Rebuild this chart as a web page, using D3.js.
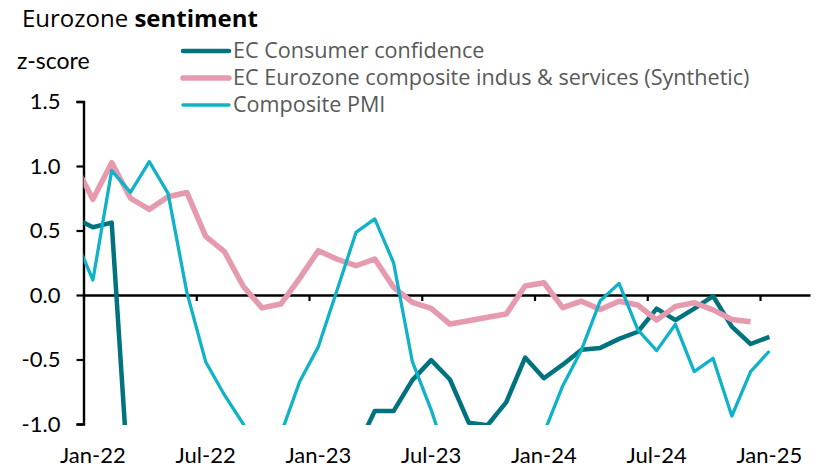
<!DOCTYPE html>
<html>
<head>
<meta charset="utf-8">
<script src="https://cdn.jsdelivr.net/npm/d3@7/dist/d3.min.js"></script>
<style>
  html, body { margin: 0; padding: 0; background: #fff; }
  svg { display: block; font-family: Lato, "Open Sans", sans-serif; }
</style>
</head>
<body>
<svg id="chart" width="826" height="469"></svg>
<script>
// Month categories: index 0 = Jan-22 (index -1 = Dec-21, partly cut by the axis)
const monthIndex = d3.range(-1, 37);
const tickLabels = ["Jan-22", "Jul-22", "Jan-23", "Jul-23", "Jan-24", "Jul-24", "Jan-25"];
const tickLabelMonths = [0, 6, 12, 18, 24, 30, 36];
const yTicks = [-1.0, -0.5, 0.0, 0.5, 1.0, 1.5];

const seriesNames = [
  "EC Consumer confidence",
  "EC Eurozone composite indus & services (Synthetic)",
  "Composite PMI"
];

// EC Consumer confidence (Dec-21 .. Jan-25)
const consumerConfidence = [
  0.60, 0.525, 0.561, -1.68, -2.10, -2.30, -2.50, -2.70, -2.90, -3.00,
  -2.90, -2.60, -2.30, -1.90, -1.60, -1.20, -0.90, -0.90, -0.66, -0.505,
  -0.655, -0.99, -1.01, -0.83, -0.485, -0.645, -0.54, -0.425, -0.41, -0.34,
  -0.285, -0.105, -0.195, -0.105, -0.008, -0.245, -0.38, -0.325
];

// EC Eurozone composite indus & services (Synthetic) (Dec-21 .. Dec-24)
const ecComposite = [
  1.02, 0.742, 1.026, 0.75, 0.664, 0.762, 0.795, 0.455, 0.336, 0.068,
  -0.10, -0.07, 0.129, 0.344, 0.277, 0.227, 0.279, 0.06, -0.057, -0.103,
  -0.225, -0.199, -0.173, -0.147, 0.07, 0.095, -0.098, -0.048, -0.113, -0.048,
  -0.078, -0.194, -0.088, -0.06, -0.115, -0.19, -0.207, null
];

// Composite PMI (Dec-21 .. Jan-25)
const compositePMI = [
  0.46, 0.116, 0.964, 0.796, 1.034, 0.788, 0.02, -0.517, -0.775, -1.0,
  -1.30, -1.08, -0.672, -0.40, 0.04, 0.485, 0.59, 0.25, -0.517, -0.89,
  -1.33, -1.60, -1.70, -1.60, -1.40, -1.07, -0.705, -0.426, -0.044, 0.09,
  -0.271, -0.431, -0.227, -0.594, -0.491, -0.938, -0.594, -0.434
];

const colors = ["#00737F", "#E59BAD", "#10B2C8"];
const widths = [4.5, 5.5, 3.3];

const svg = d3.select("#chart");

const x = d3.scaleLinear().domain([-0.5, 38.16]).range([83.5, 810]);
const y = d3.scaleLinear().domain([-1, 1.5]).range([424, 101.5]);

// Title
const title = svg.append("text").attr("x", 22).attr("y", 27)
  .attr("font-size", 24).attr("fill", "#000").attr("font-family", "'Open Sans', sans-serif");
title.append("tspan").text("Eurozone ");
title.append("tspan").attr("font-weight", "bold").text("sentiment");

// y-axis title
svg.append("text").attr("x", 17).attr("y", 69)
  .attr("font-size", 23).attr("fill", "#000").text("z-score");

// clip
svg.append("defs").append("clipPath").attr("id", "plotclip")
  .append("rect").attr("x", 83.5).attr("y", 90).attr("width", 810 - 83.5).attr("height", 425 - 90);

// x axis (zero line)
const xAxis = svg.append("g").attr("transform", `translate(0,${y(0)})`)
  .call(d3.axisBottom(x).tickValues(tickLabelMonths.map(m => m - 0.5)).tickSize(6).tickSizeOuter(0).tickFormat(""));
xAxis.select(".domain").attr("stroke", "#000").attr("stroke-width", 2.6);
xAxis.selectAll(".tick line").attr("stroke", "#000").attr("stroke-width", 2.2);

// x labels
svg.append("g").selectAll("text").data(tickLabels).join("text")
  .attr("x", (d, i) => x(tickLabelMonths[i]))
  .attr("y", 463)
  .attr("text-anchor", "middle")
  .attr("font-size", 22)
  .attr("fill", "#000")
  .text(d => d);

// y axis
const yAxis = svg.append("g").attr("transform", `translate(${x(-0.5)},0)`)
  .call(d3.axisLeft(y).tickValues(yTicks).tickSize(7).tickSizeOuter(7).tickPadding(16)
    .tickFormat(d => d.toFixed(1)));
yAxis.select(".domain").attr("stroke", "#000").attr("stroke-width", 2.4);
yAxis.selectAll(".tick line").attr("stroke", "#000").attr("stroke-width", 2.2);
yAxis.selectAll(".tick text").attr("font-size", 22).attr("fill", "#000")
  .attr("font-family", "Lato, sans-serif");

// series
const series = [consumerConfidence, ecComposite, compositePMI];
const line = d3.line()
  .defined(d => d.v !== null)
  .x(d => x(d.m))
  .y(d => y(d.v));

const plot = svg.append("g").attr("clip-path", "url(#plotclip)");
series.forEach((vals, i) => {
  const pts = monthIndex.map((m, j) => ({ m, v: vals[j] }));
  plot.append("path")
    .datum(pts)
    .attr("fill", "none")
    .attr("stroke", colors[i])
    .attr("stroke-width", widths[i])
    .attr("stroke-linejoin", "round")
    .attr("d", line);
});

// legend
const legendY = [51, 78, 105];
const leg = svg.append("g");
seriesNames.forEach((name, i) => {
  leg.append("line")
    .attr("x1", 183).attr("x2", 229)
    .attr("y1", legendY[i]).attr("y2", legendY[i])
    .attr("stroke", colors[i]).attr("stroke-width", widths[i])
    .attr("stroke-linecap", "round");
  leg.append("text")
    .attr("x", 233).attr("y", legendY[i] + 7)
    .attr("font-size", 21.6).attr("fill", "#595959")
    .attr("font-family", "'Open Sans', sans-serif")
    .text(name);
});
</script>
</body>
</html>
